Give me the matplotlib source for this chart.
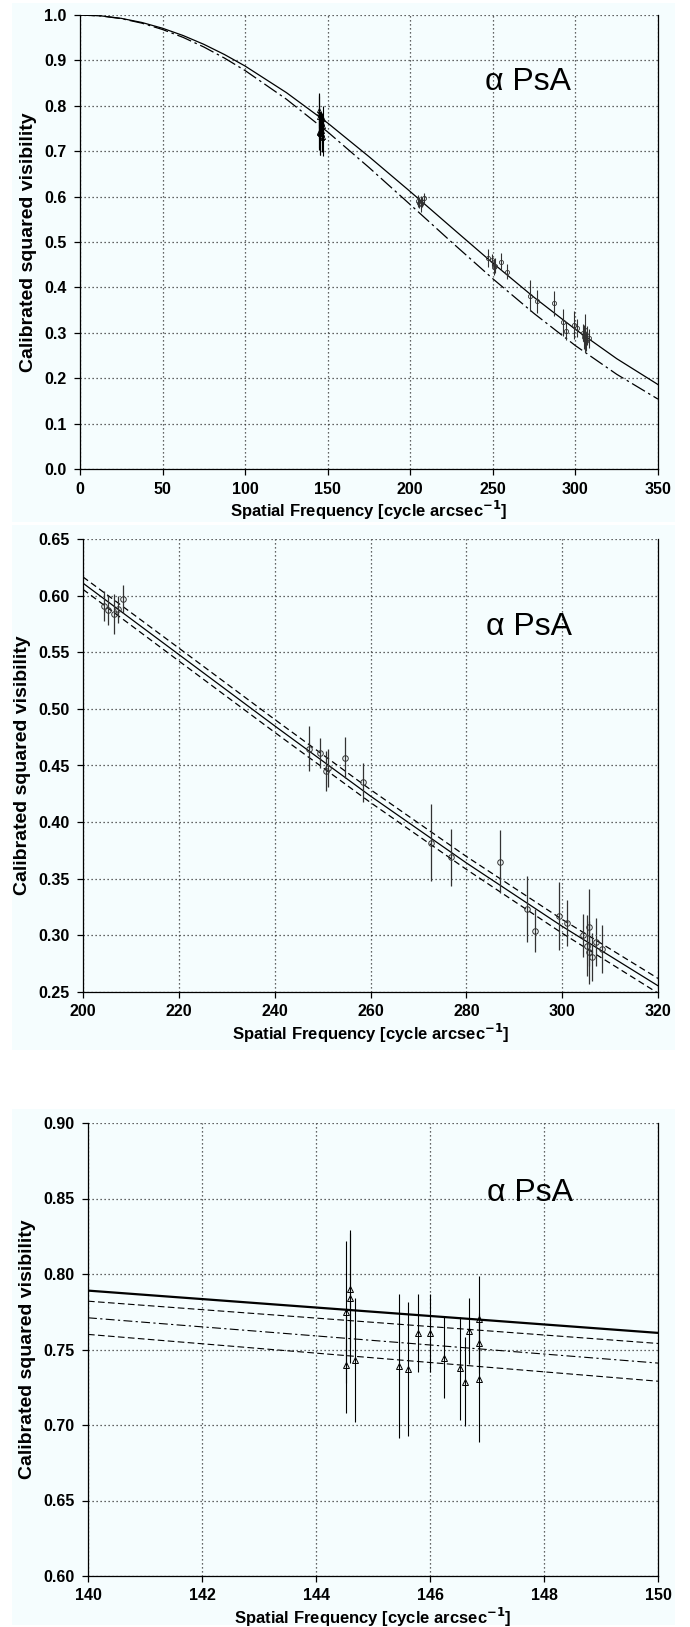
import matplotlib
matplotlib.use("Agg")
import matplotlib.pyplot as plt
from matplotlib.patches import Rectangle

# ---- data ----
# model curves, panel 1
curve_x = [0, 12.5, 25, 37.5, 50, 62.5, 75, 87.5, 100, 125, 150, 175, 200, 225, 250,
           275, 300, 325, 350]
curve_solid = [1.000, 0.9982, 0.9926, 0.9835, 0.9708, 0.9547, 0.9354, 0.9129, 0.8875,
               0.829, 0.762, 0.688, 0.611, 0.532, 0.4535, 0.378, 0.3076, 0.243, 0.186]
curve_dashdot = [1.000, 0.998, 0.992, 0.982, 0.968, 0.9506, 0.9295, 0.9051, 0.8776,
                 0.8145, 0.7424, 0.6641, 0.5823, 0.4998, 0.419, 0.3424, 0.2717, 0.2086,
                 0.1539]

# zoomed lines, panel 2
zoom_x = [200, 220, 240, 260, 280, 300, 320]
zoom_solid = [0.611, 0.548, 0.4850, 0.4230, 0.3640, 0.3080, 0.2555]
zoom_upper = [0.6165, 0.5537, 0.4907, 0.4287, 0.3697, 0.3141, 0.2620]
zoom_lower = [0.6055, 0.5423, 0.4793, 0.4173, 0.3583, 0.3019, 0.2490]

# lines, panel 3
short_x = [140, 150]
short_solid = [0.789, 0.761]
short_upper = [0.782, 0.754]
short_dashdot = [0.771, 0.741]
short_lower = [0.760, 0.729]

# long baseline points (circles)
circ_x = [204.4, 205.2, 206.5, 207.3, 208.3, 247.1, 249.5, 250.8, 251.1, 254.7, 258.5,
          272.6, 276.7, 287.1, 292.7, 294.4, 299.4, 301.1, 304.3, 305.1, 305.5, 305.7,
          306.2, 307.1, 308.4]
circ_y = [0.591, 0.587, 0.584, 0.588, 0.597, 0.465, 0.461, 0.445, 0.448, 0.457, 0.435,
          0.382, 0.369, 0.365, 0.323, 0.304, 0.317, 0.311, 0.300, 0.291, 0.307, 0.285,
          0.281, 0.294, 0.288]
circ_err = [0.013, 0.013, 0.0175, 0.012, 0.012, 0.020, 0.013, 0.0175, 0.017, 0.018, 0.017,
            0.034, 0.025, 0.028, 0.029, 0.019, 0.030, 0.020, 0.019, 0.027, 0.034, 0.028,
            0.021, 0.021, 0.021]

# short baseline points (triangles)
tri_x = [144.53, 144.53, 144.60, 144.60, 144.68, 145.46, 145.61, 145.79, 146.00, 146.24,
         146.52, 146.62, 146.68, 146.86, 146.86, 146.86]
tri_y = [0.775, 0.740, 0.790, 0.784, 0.743, 0.739, 0.737, 0.761, 0.761, 0.7446,
         0.7376, 0.7287, 0.7624, 0.7705, 0.7545, 0.7307]
tri_err = [0.047, 0.032, 0.039, 0.043, 0.041, 0.0475, 0.0445, 0.026, 0.026, 0.027,
           0.034, 0.0295, 0.022, 0.028, 0.020, 0.042]

BG = "#f5fdfe"
FONT = ["Liberation Sans", "DejaVu Sans"]
plt.rcParams["font.family"] = FONT

W, H = 690, 1627
fig = plt.figure(figsize=(W / 100, H / 100), dpi=100)
fig.patch.set_facecolor("white")


def px_axes(left, top, right, bottom):
    return fig.add_axes([left / W, 1 - bottom / H, (right - left) / W, (bottom - top) / H])


def block(top, bottom):
    fig.patches.append(Rectangle((12 / W, 1 - bottom / H), (675 - 12) / W, (bottom - top) / H,
                                 transform=fig.transFigure, facecolor=BG, edgecolor="none",
                                 zorder=-10))


def style(ax, xlim, ylim, xticks, yticks, yfmt, ypos):
    ax.set_facecolor(BG)
    ax.set_xlim(*xlim)
    ax.set_ylim(*ylim)
    ax.set_xticks(xticks)
    ax.set_yticks(yticks)
    ax.set_yticklabels([yfmt.format(v) for v in yticks])
    ax.grid(True, color="#333333", linestyle=(0, (1, 2.2)), linewidth=0.9)
    ax.spines["top"].set_visible(False)
    for s in ("left", "bottom", "right"):
        ax.spines[s].set_linewidth(0.9)
    ax.tick_params(direction="out", length=4, width=0.9, labelsize=11.5)
    ax.tick_params(axis="y", pad=5.5)
    ax.tick_params(axis="x", pad=5)
    for lab in ax.get_xticklabels() + ax.get_yticklabels():
        lab.set_fontweight("bold")
    ax.set_xlabel("Spatial Frequency [cycle arcsec$^{\\mathbf{-1}}$]", fontsize=12,
                  fontweight="bold", labelpad=2)
    ax.set_ylabel("Calibrated squared visibility", fontsize=14, fontweight="bold",
                  labelpad=5)
    ax.text(0.70, ypos, "\u03b1 PsA", transform=ax.transAxes, fontsize=23,
            ha="left", va="center")


# panel 1
block(3, 522)
ax1 = px_axes(80, 15, 658, 469)
style(ax1, (0, 350), (0, 1.0), range(0, 351, 50), [i / 10 for i in range(11)],
      "{:.1f}", 0.853)
ax1.plot(curve_x, curve_solid, color="k", lw=0.9)
ax1.plot(curve_x, curve_dashdot, color="k", lw=0.9, linestyle=(0, (12, 3, 2, 3)))
ax1.errorbar(circ_x, circ_y, yerr=circ_err, fmt="o", ms=3, mfc="none", mec="#333333",
             mew=0.6, ecolor="#333333", elinewidth=0.8, capsize=0)
ax1.errorbar(tri_x, tri_y, yerr=tri_err, fmt="^", ms=3, mfc="none", mec="k",
             mew=0.6, ecolor="k", elinewidth=0.8, capsize=0)

# panel 2
block(525, 1050)
ax2 = px_axes(83, 539, 658, 992)
style(ax2, (200, 320), (0.25, 0.65), range(200, 321, 20),
      [0.25 + 0.05 * i for i in range(9)], "{:.2f}", 0.806)
ax2.plot(zoom_x, zoom_solid, color="k", lw=0.9)
ax2.plot(zoom_x, zoom_upper, color="k", lw=0.9, linestyle=(0, (5, 3)))
ax2.plot(zoom_x, zoom_lower, color="k", lw=0.9, linestyle=(0, (5, 3)))
ax2.errorbar(circ_x, circ_y, yerr=circ_err, fmt="o", ms=4, mfc="none", mec="#333333",
             mew=0.7, ecolor="#333333", elinewidth=0.9, capsize=0)

# panel 3
block(1109, 1625)
ax3 = px_axes(88, 1123, 658, 1576)
style(ax3, (140, 150), (0.60, 0.90), range(140, 151, 2),
      [0.60 + 0.05 * i for i in range(7)], "{:.2f}", 0.845)
ax3.plot(short_x, short_solid, color="k", lw=1.6)
ax3.plot(short_x, short_upper, color="k", lw=0.8, linestyle=(0, (6, 3)))
ax3.plot(short_x, short_dashdot, color="k", lw=0.8, linestyle=(0, (8, 3, 2, 3)))
ax3.plot(short_x, short_lower, color="k", lw=0.8, linestyle=(0, (6, 3)))
ax3.errorbar(tri_x, tri_y, yerr=tri_err, fmt="^", ms=4, mfc="none", mec="k",
             mew=0.7, ecolor="k", elinewidth=0.8, capsize=0)

fig.savefig("out.png", dpi=100, facecolor="white")
